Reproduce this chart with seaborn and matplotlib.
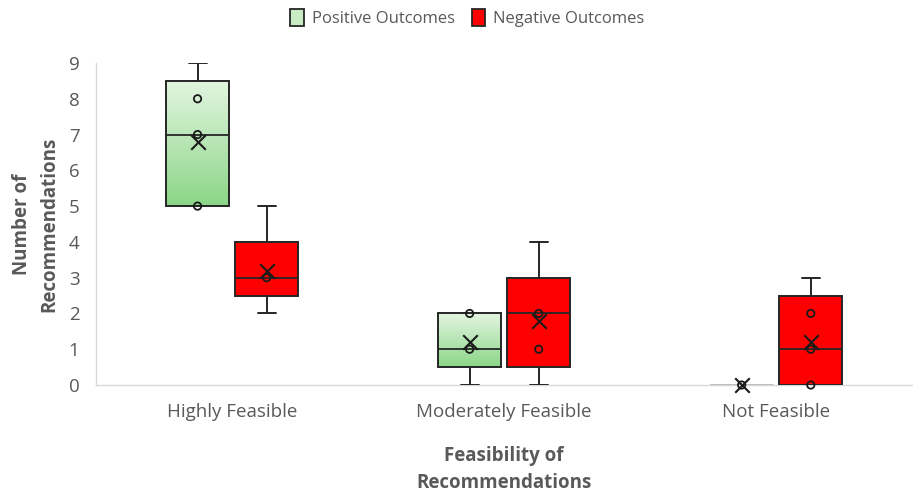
import numpy as np
import pandas as pd
import matplotlib
matplotlib.use("Agg")
import matplotlib.pyplot as plt
import seaborn as sns
from matplotlib.patches import Patch

# raw counts per category (Excel box & whisker, exclusive quartiles)
categories = ["Highly Feasible", "Moderately Feasible", "Not Feasible"]
groups = ["Positive Outcomes", "Negative Outcomes"]

positive_highly = [5, 5, 7, 8, 9]
positive_moderately = [0, 1, 1, 2, 2]
positive_not = [0, 0, 0, 0, 0]
negative_highly = [2, 3, 3, 3, 5]
negative_moderately = [0, 1, 2, 2, 4]
negative_not = [0, 0, 1, 2, 3]

y_ticks = [0, 1, 2, 3, 4, 5, 6, 7, 8, 9]

# long table
rows = []
for grp, series in zip(groups, [[positive_highly, positive_moderately, positive_not],
                                 [negative_highly, negative_moderately, negative_not]]):
    for cat, vals in zip(categories, series):
        for v in vals:
            rows.append({"category": cat, "group": grp, "value": v})
df = pd.DataFrame(rows)

text_col = "#595959"
axis_col = "#D9D9D9"
line_col = "#262626"
red = "#FF0000"
green_top = np.array([227, 245, 224]) / 255
green_bot = np.array([140, 214, 136]) / 255

sns.set_style("white")
plt.rcParams["font.family"] = ["Open Sans", "DejaVu Sans"]

fig, ax = plt.subplots(figsize=(9.15, 4.94), dpi=100)
fig.subplots_adjust(left=0.105, right=0.997, bottom=0.2206, top=0.8725)

offset = 0.127
box_w = 0.232
cap_w = 0.066

stats, positions, colors, means, inner = [], [], [], [], []
for gi, grp in enumerate(groups):
    for ci, cat in enumerate(categories):
        vals = df[(df.group == grp) & (df.category == cat)]["value"].to_numpy()
        q1, med, q3 = np.percentile(vals, [25, 50, 75], method="weibull")
        iqr = q3 - q1
        lo = vals[vals >= q1 - 1.5 * iqr].min()
        hi = vals[vals <= q3 + 1.5 * iqr].max()
        pos = ci + (-offset if gi == 0 else offset)
        stats.append({"q1": q1, "med": med, "q3": q3, "whislo": lo, "whishi": hi,
                      "fliers": []})
        positions.append(pos)
        colors.append(gi)
        means.append({"pos": pos, "value": vals.mean()})
        for v in np.unique(vals[(vals >= q1) & (vals <= q3)]):
            inner.append({"pos": pos, "value": v})

bp = ax.bxp(stats, positions=positions, widths=box_w, patch_artist=True,
            showfliers=False, capwidths=cap_w,
            boxprops=dict(edgecolor=line_col, linewidth=1.4),
            medianprops=dict(color=line_col, linewidth=1.3),
            whiskerprops=dict(color=line_col, linewidth=1.4),
            capprops=dict(color=line_col, linewidth=1.4))

grad = np.linspace(0, 1, 256)[:, None, None] * (green_bot - green_top) + green_top
for i, (patch, gi, st, pos) in enumerate(zip(bp["boxes"], colors, stats, positions)):
    if gi == 1:
        patch.set_facecolor(red)
    else:
        patch.set_facecolor("none")
        if st["q3"] > st["q1"]:
            ax.imshow(grad, extent=[pos - box_w / 2, pos + box_w / 2, st["q1"], st["q3"]],
                      aspect="auto", zorder=1.9, interpolation="bilinear")
        else:
            # flat box (all zeros) shows as a grey line in the original
            patch.set_edgecolor("#BFBFBF")
            patch.set_linewidth(2.0)
            bp["medians"][i].set_color("#BFBFBF")
            for art in bp["caps"][2 * i:2 * i + 2] + bp["whiskers"][2 * i:2 * i + 2]:
                art.set_visible(False)

inner_df = pd.DataFrame(inner)
mean_df = pd.DataFrame(means)
sns.scatterplot(data=inner_df, x="pos", y="value", ax=ax, marker="o", s=28,
                facecolor="none", edgecolor="#1a1a1a", linewidth=1.3, zorder=4,
                clip_on=False, legend=False)
sns.scatterplot(data=mean_df, x="pos", y="value", ax=ax, marker="x", s=110,
                color="#1a1a1a", linewidth=1.5, zorder=5, clip_on=False, legend=False)

ax.set_xlim(-0.5, 2.5)
ax.set_ylim(0, 9)
ax.set_xticks(range(len(categories)))
ax.set_xticklabels(categories)
ax.set_yticks(y_ticks)
ax.tick_params(axis="both", length=0, labelsize=13.5, labelcolor=text_col)
ax.tick_params(axis="x", pad=13)
ax.tick_params(axis="y", pad=12)

for s in ["top", "right"]:
    ax.spines[s].set_visible(False)
for s in ["left", "bottom"]:
    ax.spines[s].set_color(axis_col)
    ax.spines[s].set_linewidth(1.0)
    ax.spines[s].set_zorder(0.5)

ax.set_xlabel("Feasibility of\nRecommendations", fontsize=13.5, fontweight="bold",
              color=text_col, labelpad=18, linespacing=1.45)
ax.set_ylabel("Number of\nRecommendations", fontsize=13.5, fontweight="bold",
              color=text_col, linespacing=1.45)
ax.yaxis.label.set_verticalalignment("center")
ax.yaxis.set_label_coords(-0.074, 0.5)

handles = [Patch(facecolor="#C9ECC5", edgecolor=line_col, linewidth=1.3),
           Patch(facecolor=red, edgecolor=line_col, linewidth=1.3)]
leg = fig.legend(handles, groups, loc="upper center", bbox_to_anchor=(0.511, 1.012),
                 ncol=2, frameon=False, fontsize=12, handlelength=0.8,
                 handleheight=1.2, handletextpad=0.5, columnspacing=1.0)
for t in leg.get_texts():
    t.set_color(text_col)

fig.savefig("out.png", dpi=100)
